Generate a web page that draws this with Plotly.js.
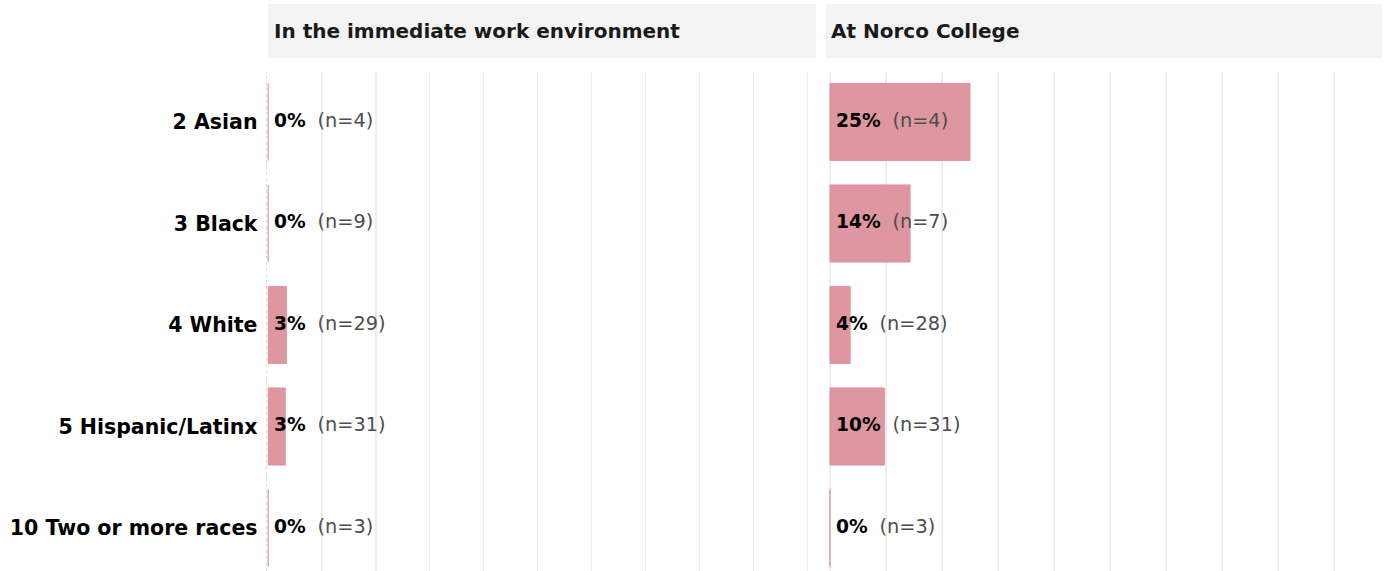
<!DOCTYPE html>
<html>
<head>
<meta charset="utf-8">
<script src="https://cdn.plot.ly/plotly-3.0.1.min.js"></script>
<style>html,body{margin:0;padding:0;background:#fff;}#chart{width:1388px;height:571px;}</style>
</head>
<body>
<div id="chart"></div>
<script>
const categories = ["2 Asian", "3 Black", "4 White", "5 Hispanic/Latinx", "10 Two or more races"];
const panels = ["In the immediate work environment", "At Norco College"];
const pctWork = [0, 0, 3.4, 3.2, 0];
const nWork = [4, 9, 29, 31, 3];
const pctCollege = [25, 14.3, 3.6, 9.7, 0];
const nCollege = [4, 7, 28, 31, 3];
const pctLabelsWork = ["0%", "0%", "3%", "3%", "0%"];
const pctLabelsCollege = ["25%", "14%", "4%", "10%", "0%"];

const W = 1388, H = 571;
const FONT = "DejaVu Sans, sans-serif";
const FS = 18.67;
const barColor = "#de96a0";

function labelText(pcts, ns) {
  return pcts.map((p, i) => "\u00a0<b>" + p + "</b>\u00a0\u00a0<span style=\"color:#4d4d4d;font-size:19.3px\">(n=" + ns[i] + ")</span>");
}

const traces = [
  {type: "bar", orientation: "h", x: pctWork, y: categories, xaxis: "x", yaxis: "y",
   marker: {color: barColor, line: {color: barColor, width: 1}}, width: 0.76, hoverinfo: "none"},
  {type: "bar", orientation: "h", x: pctCollege, y: categories, xaxis: "x2", yaxis: "y2",
   marker: {color: barColor, line: {color: barColor, width: 1}}, width: 0.76, hoverinfo: "none"},
  {type: "scatter", mode: "text", x: categories.map(() => 0), y: categories, xaxis: "x", yaxis: "y",
   text: labelText(pctLabelsWork, nWork), textposition: "middle right", cliponaxis: false,
   textfont: {family: FONT, size: FS, color: "#000"}, hoverinfo: "none"},
  {type: "scatter", mode: "text", x: categories.map(() => 0), y: categories, xaxis: "x2", yaxis: "y2",
   text: labelText(pctLabelsCollege, nCollege), textposition: "middle right", cliponaxis: false,
   textfont: {family: FONT, size: FS, color: "#000"}, hoverinfo: "none"}
];

const yTop = 1 - 72 / H;
const gridStyle = {showgrid: true, gridcolor: "#eeeeee", gridwidth: 1.3, dtick: 10, tick0: 0,
  showticklabels: false, zeroline: false, showline: false, ticks: "", fixedrange: true};
const yStyle = {type: "category", range: [4.4236, -0.4926], showgrid: false, zeroline: false,
  showline: false, ticks: "", fixedrange: true};

const layout = {
  width: W, height: H,
  margin: {l: 0, r: 0, t: 0, b: 0},
  paper_bgcolor: "#fff", plot_bgcolor: "rgba(0,0,0,0)",
  showlegend: false,
  font: {family: FONT, size: FS, color: "#000"},
  xaxis: Object.assign({}, gridStyle, {domain: [267.5 / W, 816 / W], range: [-0.1, 101.6], anchor: "y"}),
  xaxis2: Object.assign({}, gridStyle, {domain: [826 / W, 1382 / W], range: [-0.714, 98.57], anchor: "y2"}),
  yaxis: Object.assign({}, yStyle, {domain: [0, yTop], anchor: "x", showticklabels: true,
    tickfont: {family: FONT, size: 20.5, color: "#000", weight: "bold"}, ticklabelstandoff: 9}),
  yaxis2: Object.assign({}, yStyle, {domain: [0, yTop], anchor: "x2", showticklabels: false, matches: "y"}),
  shapes: [
    {type: "rect", xref: "paper", yref: "paper", x0: 268 / W, x1: 816 / W, y0: 1 - 58 / H, y1: 1 - 4 / H,
     fillcolor: "#f3f3f3", line: {width: 0}, layer: "below"},
    {type: "rect", xref: "paper", yref: "paper", x0: 826 / W, x1: 1382 / W, y0: 1 - 58 / H, y1: 1 - 4 / H,
     fillcolor: "#f3f3f3", line: {width: 0}, layer: "below"},
    {type: "line", xref: "paper", yref: "paper", x0: 266.5 / W, x1: 266.5 / W, y0: 0, y1: yTop,
     line: {color: "#dddddd", width: 1, dash: "3px,3px"}, layer: "below"}
  ],
  annotations: [
    {text: panels[0], xref: "paper", yref: "paper", x: 272 / W, y: 1 - 31 / H, xanchor: "left", yanchor: "middle",
     showarrow: false, font: {family: FONT, size: 20, color: "#1a1a1a", weight: "bold"}},
    {text: panels[1], xref: "paper", yref: "paper", x: 829 / W, y: 1 - 31 / H, xanchor: "left", yanchor: "middle",
     showarrow: false, font: {family: FONT, size: 20, color: "#1a1a1a", weight: "bold"}}
  ]
};

Plotly.newPlot("chart", traces, layout, {displayModeBar: false, staticPlot: true});
</script>
</body>
</html>
